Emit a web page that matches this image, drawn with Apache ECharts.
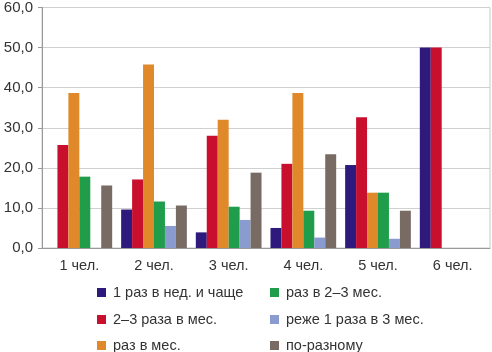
<!DOCTYPE html>
<html>
<head>
<meta charset="utf-8">
<script src="https://cdn.jsdelivr.net/npm/echarts@6/dist/echarts.min.js"></script>
<style>
  html, body { margin: 0; padding: 0; background: #fff; }
  #chart { width: 492px; height: 352px; }
</style>
</head>
<body>
<div id="chart"></div>
<script>
var categories = ["1 чел.", "2 чел.", "3 чел.", "4 чел.", "5 чел.", "6 чел."];
var seriesNames = ["1 раз в нед. и чаще", "2–3 раза в мес.", "раз в мес.", "раз в 2–3 мес.", "реже 1 раза в 3 мес.", "по-разному"];
var seriesColors = ["#2d1a7c", "#c8102e", "#e0892a", "#1f9d4a", "#8a9bd0", "#776b63"];
var weekly = [0, 9.6, 3.9, 5.0, 20.7, 50.0];
var twoThreeMonth = [25.7, 17.1, 28.0, 21.0, 32.6, 50.0];
var monthly = [38.7, 45.8, 32.0, 38.7, 13.8, 0];
var every2to3 = [17.8, 11.6, 10.3, 9.3, 13.8, 0];
var rarely = [0, 5.5, 7.0, 2.6, 2.3, 0];
var varies = [15.6, 10.6, 18.8, 23.4, 9.3, 0];
var yTicks = [0, 10, 20, 30, 40, 50, 60];

var allValues = [weekly, twoThreeMonth, monthly, every2to3, rarely, varies];

var chart = echarts.init(document.getElementById("chart"));

var series = [];
for (var i = 0; i < seriesNames.length; i++) {
    series.push({
        name: seriesNames[i],
        type: "bar",
        data: allValues[i],
        barGap: "0%",
        barCategoryGap: "12%",
        itemStyle: { color: seriesColors[i] }
    });
}

var textStyle = { fontFamily: "Liberation Sans", fontSize: 14.5, color: "#333" };

// legend: 2 columns x 3 rows, one legend per item so it sits where the original does
var legendCols = [92, 265];
var legendRows = [280, 307, 333];
var legends = [];
for (var j = 0; j < seriesNames.length; j++) {
    legends.push({
        data: [seriesNames[j]],
        left: legendCols[j < 3 ? 0 : 1],
        top: legendRows[j % 3],
        itemWidth: 9, itemHeight: 9, itemGap: 0,
        icon: "rect",
        textStyle: Object.assign({}, textStyle, { padding: [0, 0, 0, 2] })
    });
}

var option = {
    animation: false,
    grid: {
        left: 42, right: 2, top: 5, bottom: 104,
        show: true, borderColor: "#c8c8c8", borderWidth: 1
    },
    legend: legends,
    xAxis: {
        type: "category",
        data: categories,
        axisLine: { lineStyle: { color: "#999" } },
        axisTick: { length: 4, lineStyle: { color: "#999" } },
        axisLabel: Object.assign({ margin: 10 }, textStyle)
    },
    yAxis: {
        type: "value",
        min: yTicks[0],
        max: yTicks[yTicks.length - 1],
        interval: 10,
        axisLine: { show: true, lineStyle: { color: "#999" } },
        axisTick: { show: true, length: 4, lineStyle: { color: "#999" } },
        splitLine: { lineStyle: { color: "#d0d0d0" } },
        axisLabel: Object.assign({}, textStyle, {
            margin: 9,
            fontSize: 15,
            formatter: function (v) { return v.toFixed(1).replace(".", ","); }
        })
    },
    series: series
};

chart.setOption(option);
</script>
</body>
</html>
